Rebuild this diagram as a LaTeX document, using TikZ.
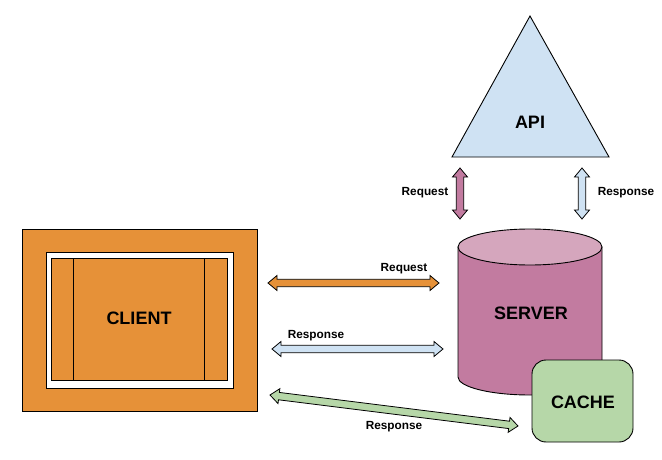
\documentclass[tikz,border=0pt]{standalone}
\usepackage{fontspec}
\setmainfont{Liberation Sans}
\usetikzlibrary{calc}

\definecolor{clientorange}{HTML}{E69138}
\definecolor{serverpink}{HTML}{C27BA0}
\definecolor{servertop}{HTML}{D5A6BD}
\definecolor{apiblue}{HTML}{CFE2F3}
\definecolor{cachegreen}{HTML}{B6D7A8}

\tikzset{
  shapeline/.style={draw=black, line width=0.9pt},
  biglabel/.style={font=\fontsize{18}{20}\selectfont\bfseries},
  smalllabel/.style={font=\fontsize{11.8}{14}\selectfont\bfseries},
  fatarrow/.style={draw=black, line width=0.8pt, line join=miter},
}

% double headed block arrow: from, to, fill
\newcommand{\fatarrow}[3]{%
  \draw[fatarrow, fill=#3] (#1)
    -- ($(#1)!9pt!(#2)!7.5pt!90:(#2)$)
    -- ($(#1)!9pt!(#2)!3.7pt!90:(#2)$)
    -- ($(#2)!9pt!(#1)!3.7pt!-90:(#1)$)
    -- ($(#2)!9pt!(#1)!7.5pt!-90:(#1)$)
    -- (#2)
    -- ($(#2)!9pt!(#1)!7.5pt!90:(#1)$)
    -- ($(#2)!9pt!(#1)!3.7pt!90:(#1)$)
    -- ($(#1)!9pt!(#2)!3.7pt!-90:(#2)$)
    -- ($(#1)!9pt!(#2)!7.5pt!-90:(#2)$)
    -- cycle;}

\begin{document}
\begin{tikzpicture}[x=1pt,y=-1pt]
  \useasboundingbox (0,0) rectangle (662,460);

  % client
  \draw[shapeline, fill=clientorange] (22,229) rectangle (257,411);
  \draw[shapeline, fill=white] (46,252) rectangle (233,388);
  \draw[shapeline, fill=clientorange] (51,258) rectangle (227,380);
  \draw[shapeline] (73,258) -- (73,380) (204,258) -- (204,380);
  \node[biglabel] (client) at (139,318) {CLIENT};

  % api
  \draw[shapeline, fill=apiblue] (530,16) -- (609,157) -- (452,157) -- cycle;
  \node[biglabel] (api) at (530,122) {API};

  % server
  \draw[shapeline, fill=serverpink] (458,247) -- (458,377)
    arc[start angle=180, end angle=360, x radius=72pt, y radius=18pt]
    -- (602,247) -- cycle;
  \draw[shapeline, fill=servertop] (530,247) ellipse[x radius=72pt, y radius=18pt];
  \node[biglabel] (server) at (531,313) {SERVER};

  % cache
  \draw[shapeline, fill=cachegreen, rounded corners=14pt] (532,360) rectangle (633,442);
  \node[biglabel] (cache) at (583,402) {CACHE};

  % arrow ends
  \coordinate (reqL) at (268,283);
  \coordinate (reqR) at (439,283);
  \coordinate (resL) at (272,349);
  \coordinate (resR) at (443,349);
  \coordinate (cacheL) at (270,395);
  \coordinate (cacheR) at (518,426);
  \coordinate (apireqT) at (460,168);
  \coordinate (apireqB) at (460,219);
  \coordinate (apiresT) at (582,168);
  \coordinate (apiresB) at (582,219);

  \fatarrow{reqL}{reqR}{clientorange}
  \fatarrow{resL}{resR}{apiblue}
  \fatarrow{cacheL}{cacheR}{cachegreen}
  \fatarrow{apireqT}{apireqB}{serverpink}
  \fatarrow{apiresT}{apiresB}{apiblue}

  \node[smalllabel] (reqlabel) at (404,269) {Request};
  \node[smalllabel] (reslabel) at (316,336) {Response};
  \node[smalllabel] (cachelabel) at (394,427) {Response};
  \node[smalllabel] (apireqlabel) at (425,193) {Request};
  \node[smalllabel] (apireslabel) at (626,193) {Response};
\end{tikzpicture}
\end{document}
